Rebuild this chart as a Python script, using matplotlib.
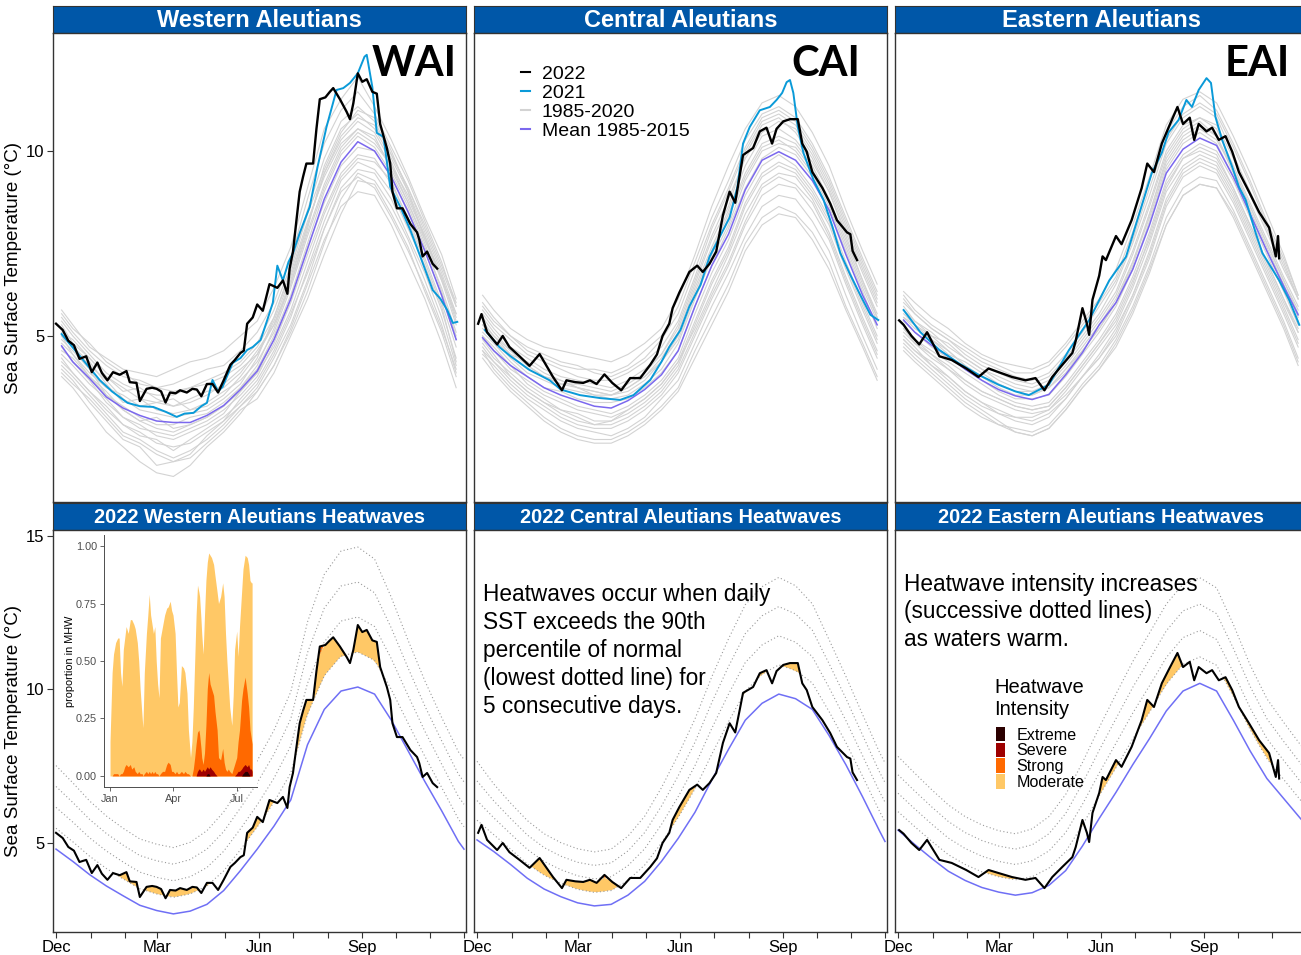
import matplotlib
matplotlib.use("Agg")
import matplotlib.pyplot as plt
import numpy as np
from matplotlib.lines import Line2D
from matplotlib.patches import Patch

plt.rcParams["font.family"] = ["Liberation Sans", "DejaVu Sans"]

# x axis: days since 1 Dec 2021
month_days = [0, 31, 62, 90, 121, 151, 182, 212, 243, 274, 304, 335, 365]
month_labels = ["Dec", "", "", "Mar", "", "", "Jun", "", "", "Sep", "", "", ""]

regions = ["Western Aleutians", "Central Aleutians", "Eastern Aleutians"]
codes = ["WAI", "CAI", "EAI"]

grid_days = [5, 15, 30, 45, 60, 75, 90, 105, 120, 135, 150, 165, 180, 195, 210, 225,
             240, 255, 270, 285, 300, 315, 330, 345, 358]
clim_days = [0, 15, 30, 45, 60, 75, 90, 105, 120, 135, 150, 165, 180, 195, 210, 225,
             240, 255, 270, 285, 300, 315, 330, 345, 360, 365]

# ---- Western Aleutians ----
wai_2022_days = [0, 6, 11, 16, 21, 27, 32, 37, 41, 46, 51, 57, 63, 66, 72, 75, 81, 86, 90, 94,
                 98, 102, 107, 111, 117, 122, 126, 130, 135, 140, 145, 150, 156, 160, 165, 168,
                 171, 176, 180, 185, 191, 198, 203, 207, 209, 212, 215, 218, 221, 224, 230, 233,
                 236, 241, 245, 248, 254, 260, 263, 266, 270, 274, 278, 283, 287, 290, 296, 299,
                 301, 305, 310, 317, 323, 325, 328, 332, 337, 341]
wai_2022 = [5.33, 5.16, 4.87, 4.75, 4.38, 4.45, 4.02, 4.28, 4.00, 3.80, 4.02, 3.95, 4.05, 3.75,
            3.73, 3.24, 3.57, 3.60, 3.57, 3.50, 3.20, 3.47, 3.45, 3.53, 3.47, 3.57, 3.55, 3.37,
            3.70, 3.70, 3.47, 3.80, 4.22, 4.35, 4.54, 4.60, 5.33, 5.50, 5.85, 5.68, 6.40, 6.30,
            6.50, 6.14, 6.82, 7.28, 8.10, 8.90, 9.30, 9.66, 9.66, 10.60, 11.40, 11.45, 11.60,
            11.70, 11.40, 11.06, 10.86, 11.29, 12.10, 11.87, 11.94, 11.60, 11.55, 10.73, 10.08,
            9.66, 8.90, 8.45, 8.45, 8.03, 7.80, 7.60, 7.15, 7.28, 6.95, 6.82]
wai_2021_days = [5, 19, 39, 50, 64, 75, 87, 98, 108, 115, 123, 130, 135, 140, 145, 149, 158, 165,
                 171, 176, 183, 189, 194, 198, 203, 208, 212, 218, 227, 234, 242, 251, 257, 263,
                 270, 276, 278, 283, 287, 293, 299, 308, 317, 326, 337, 344, 350, 355, 359]
wai_2021 = [5.05, 4.54, 3.81, 3.50, 3.19, 3.10, 3.08, 2.95, 2.81, 2.90, 2.92, 3.10, 3.19, 3.81,
            3.50, 3.62, 4.27, 4.40, 4.62, 4.70, 4.89, 5.43, 5.90, 6.90, 6.50, 7.00, 7.24, 7.78,
            8.49, 9.57, 10.65, 11.65, 11.70, 11.84, 12.10, 12.55, 12.60, 11.73, 10.49, 10.38,
            9.03, 8.49, 7.86, 7.14, 6.24, 6.00, 5.70, 5.35, 5.38]
wai_mean = [4.73, 4.30, 3.85, 3.35, 3.05, 2.85, 2.70, 2.66, 2.66, 2.85, 3.12, 3.55, 4.05, 4.90,
            6.0, 7.35, 8.7, 9.7, 10.25, 10.0, 9.3, 8.35, 7.3, 6.1, 4.9]
wai_years = [
    [5.7, 5.3, 4.7, 4.4, 4.1, 4.0, 3.9, 4.1, 4.3, 4.4, 4.6, 5.0, 5.4, 6.3, 7.4, 9.0, 10.6, 11.4, 12.0, 11.2, 10.3, 9.3, 8.2, 7.2, 6.0],
    [3.9, 3.6, 3.0, 2.4, 2.0, 1.6, 1.3, 1.2, 1.5, 2.0, 2.4, 2.9, 3.5, 4.2, 5.2, 6.4, 7.6, 8.5, 8.9, 8.8, 8.0, 7.0, 6.0, 4.8, 3.6],
    [5.2, 4.7, 4.3, 3.7, 3.2, 3.3, 3.0, 2.9, 3.0, 3.1, 3.4, 3.9, 4.5, 5.4, 6.6, 8.0, 9.4, 10.3, 10.8, 10.5, 9.7, 8.7, 7.7, 6.5, 5.3],
    [4.4, 4.0, 3.5, 3.0, 2.6, 2.3, 2.2, 1.9, 2.2, 2.5, 2.8, 3.2, 3.7, 4.5, 5.5, 6.8, 8.1, 9.2, 9.7, 9.5, 8.9, 7.9, 6.9, 5.7, 4.4],
    [5.0, 4.5, 4.0, 3.6, 3.4, 3.1, 3.2, 3.3, 3.0, 3.2, 3.5, 3.8, 4.3, 5.1, 6.3, 7.7, 9.0, 10.0, 10.5, 10.2, 9.6, 8.8, 7.7, 6.6, 5.5],
    [4.2, 3.9, 3.4, 2.9, 2.4, 2.2, 1.9, 1.7, 1.9, 2.2, 2.6, 3.1, 3.5, 4.2, 5.1, 6.2, 7.5, 8.7, 9.4, 9.2, 8.5, 7.6, 6.5, 5.3, 4.0],
    [5.4, 5.0, 4.5, 4.0, 3.7, 3.5, 3.4, 3.4, 3.6, 3.8, 4.0, 4.3, 4.8, 5.7, 6.9, 8.4, 9.8, 10.8, 11.2, 10.8, 9.9, 9.0, 7.9, 6.8, 5.8],
    [4.7, 4.3, 3.8, 3.2, 2.8, 2.5, 2.4, 2.3, 2.5, 2.7, 3.0, 3.4, 3.9, 4.8, 5.9, 7.2, 8.4, 9.4, 9.9, 9.8, 9.1, 8.2, 7.1, 5.9, 4.7],
    [4.9, 4.6, 4.1, 3.4, 3.1, 2.8, 2.6, 2.6, 2.8, 2.9, 3.2, 3.6, 4.1, 5.0, 6.1, 7.5, 8.9, 9.9, 10.4, 10.1, 9.4, 8.5, 7.4, 6.3, 5.1],
    [4.5, 4.2, 3.7, 3.3, 2.8, 2.6, 2.3, 2.2, 2.4, 2.6, 2.9, 3.5, 4.0, 4.7, 5.7, 7.0, 8.3, 9.3, 9.8, 9.7, 9.2, 8.1, 7.0, 5.8, 4.3],
    [5.3, 4.8, 4.4, 3.9, 3.5, 3.6, 3.3, 3.1, 3.3, 3.5, 3.6, 4.0, 4.6, 5.3, 6.4, 7.9, 9.6, 10.6, 11.0, 10.6, 9.8, 8.9, 7.6, 6.6, 5.4],
    [4.1, 3.8, 3.2, 2.7, 2.2, 2.0, 1.5, 1.6, 1.7, 2.1, 2.5, 3.0, 3.3, 4.0, 5.0, 6.0, 7.2, 8.3, 9.2, 9.1, 8.3, 7.4, 6.2, 5.1, 3.9],
    [4.6, 4.4, 3.9, 3.5, 3.0, 2.7, 2.8, 2.5, 2.6, 2.8, 3.1, 3.6, 4.2, 5.2, 6.4, 7.8, 9.1, 10.1, 10.6, 10.4, 9.5, 8.6, 7.5, 6.2, 5.0],
    [5.5, 5.1, 4.6, 4.2, 3.9, 3.8, 3.6, 3.7, 3.9, 4.1, 4.2, 4.6, 5.1, 5.9, 7.1, 8.7, 10.2, 11.1, 11.6, 11.0, 10.1, 9.2, 8.1, 7.0, 5.8],
    [5.0, 4.7, 4.2, 3.8, 3.3, 3.0, 2.9, 2.8, 2.9, 3.0, 3.3, 3.7, 4.4, 5.5, 6.8, 8.3, 9.5, 10.5, 11.1, 10.9, 10.0, 8.9, 7.8, 6.7, 5.6],
    [4.3, 4.0, 3.5, 3.1, 2.6, 2.4, 2.1, 2.0, 2.1, 2.4, 2.7, 3.1, 3.6, 4.4, 5.3, 6.5, 7.9, 9.0, 9.5, 9.4, 8.7, 7.7, 6.7, 5.5, 4.2],
    [5.6, 5.2, 4.8, 4.3, 4.0, 3.7, 3.6, 3.5, 3.6, 3.7, 3.9, 4.2, 4.7, 5.5, 6.7, 8.1, 9.3, 10.2, 10.6, 10.3, 9.6, 8.6, 7.6, 6.5, 5.6],
    [4.8, 4.5, 3.9, 3.4, 3.0, 2.7, 2.5, 2.4, 2.6, 2.8, 3.1, 3.5, 4.0, 4.9, 6.0, 7.4, 8.6, 9.6, 10.1, 10.0, 9.3, 8.4, 7.3, 6.1, 4.9],
    [4.0, 3.7, 3.3, 2.8, 2.3, 2.1, 1.8, 1.6, 1.8, 2.3, 2.7, 3.3, 3.8, 4.6, 5.6, 6.7, 7.9, 8.9, 9.3, 9.0, 8.2, 7.3, 6.3, 5.2, 4.1],
    [5.1, 4.9, 4.4, 3.9, 3.6, 3.3, 3.2, 3.1, 3.2, 3.4, 3.7, 4.1, 4.5, 5.3, 6.5, 8.0, 9.4, 10.4, 10.9, 10.7, 9.9, 9.0, 8.0, 6.9, 5.9],
]
wai_clim = [4.8, 4.4, 3.97, 3.6, 3.28, 2.97, 2.8, 2.69, 2.78, 3.0, 3.45, 4.1, 4.8, 5.55, 6.4,
            8.2, 9.35, 9.95, 10.08, 9.85, 9.0, 8.0, 7.0, 6.05, 5.05, 4.8]
wai_p90_gap = [0.68, 0.64, 0.6, 0.57, 0.55, 0.54, 0.54, 0.54, 0.56, 0.6, 0.64, 0.68, 0.72, 0.78,
               0.88, 1.0, 1.1, 1.14, 1.14, 1.1, 1.0, 0.9, 0.82, 0.76, 0.73, 0.73]

# ---- Central Aleutians ----
cai_2022_days = [1, 4, 9, 18, 23, 29, 38, 47, 56, 62, 68, 76, 80, 88, 95, 101, 107, 114, 121, 129,
                 137, 146, 155, 161, 166, 172, 175, 181, 190, 197, 202, 208, 214, 220, 226, 231,
                 235, 238, 247, 253, 259, 264, 268, 274, 280, 287, 291, 295, 300, 309, 316, 322,
                 331, 334, 336, 340]
cai_2022 = [5.33, 5.59, 5.10, 4.77, 5.00, 4.70, 4.45, 4.19, 4.51, 4.20, 3.89, 3.53, 3.80, 3.75,
            3.73, 3.80, 3.70, 3.96, 3.73, 3.53, 3.86, 3.86, 4.22, 4.50, 5.00, 5.33, 5.75, 6.17,
            6.73, 6.90, 6.73, 6.95, 7.28, 8.26, 8.90, 8.60, 9.33, 9.89, 10.08, 10.53, 10.63,
            10.20, 10.60, 10.80, 10.86, 10.86, 10.20, 9.98, 9.43, 9.00, 8.58, 8.13, 7.80, 7.75,
            7.30, 7.05]
cai_2021_days = [7, 20, 30, 47, 65, 75, 92, 110, 128, 140, 155, 165, 172, 182, 190, 200, 208, 226,
                 233, 238, 244, 253, 262, 268, 273, 277, 280, 283, 287, 292, 301, 310, 318, 325,
                 334, 343, 352, 359]
cai_2021 = [5.16, 4.70, 4.45, 4.08, 3.80, 3.55, 3.40, 3.32, 3.27, 3.40, 3.81, 4.30, 4.70, 5.16,
            5.80, 6.38, 7.14, 8.20, 9.03, 10.20, 10.65, 11.10, 11.19, 11.38, 11.57, 11.86, 11.92,
            11.57, 10.65, 9.95, 9.22, 8.68, 7.95, 7.24, 6.65, 6.10, 5.57, 5.43]
cai_mean = [4.95, 4.6, 4.2, 3.9, 3.6, 3.4, 3.25, 3.1, 3.05, 3.25, 3.55, 3.95, 4.6, 5.8, 6.9,
            7.75, 8.95, 9.75, 9.98, 9.75, 9.2, 8.4, 7.2, 6.1, 5.3]
cai_years = [
    [6.1, 5.7, 5.2, 4.9, 4.7, 4.6, 4.5, 4.4, 4.3, 4.5, 4.8, 5.2, 6.0, 7.2, 8.5, 9.6, 10.6, 11.3, 11.5, 11.2, 10.5, 9.6, 8.4, 7.3, 6.4],
    [4.6, 4.1, 3.6, 3.2, 2.8, 2.5, 2.3, 2.2, 2.2, 2.4, 2.7, 3.1, 3.6, 4.6, 5.5, 6.4, 7.5, 8.2, 8.5, 8.3, 7.8, 7.0, 5.8, 4.8, 3.9],
    [5.4, 5.0, 4.5, 4.3, 4.0, 3.8, 3.6, 3.5, 3.4, 3.6, 3.9, 4.4, 5.1, 6.3, 7.4, 8.4, 9.6, 10.4, 10.6, 10.3, 9.7, 8.9, 7.7, 6.5, 5.6],
    [4.8, 4.4, 4.0, 3.6, 3.3, 3.0, 2.9, 2.7, 2.7, 2.9, 3.2, 3.6, 4.2, 5.3, 6.4, 7.3, 8.5, 9.3, 9.6, 9.4, 8.8, 8.0, 6.8, 5.7, 4.8],
    [5.2, 4.9, 4.4, 4.0, 3.8, 3.6, 3.5, 3.4, 3.3, 3.4, 3.7, 4.1, 4.8, 6.0, 7.1, 8.0, 9.2, 10.0, 10.2, 10.1, 9.5, 8.6, 7.5, 6.4, 5.5],
    [4.7, 4.3, 3.8, 3.4, 3.1, 2.8, 2.6, 2.5, 2.5, 2.7, 3.0, 3.4, 4.0, 5.0, 6.0, 6.9, 8.0, 8.8, 9.1, 9.0, 8.4, 7.6, 6.4, 5.3, 4.4],
    [5.7, 5.3, 4.9, 4.5, 4.3, 4.1, 3.9, 3.8, 3.8, 4.0, 4.3, 4.7, 5.4, 6.6, 7.9, 8.9, 10.0, 10.8, 11.0, 10.7, 10.0, 9.1, 8.0, 6.9, 6.0],
    [5.0, 4.6, 4.1, 3.8, 3.5, 3.3, 3.1, 3.0, 2.9, 3.1, 3.4, 3.8, 4.4, 5.6, 6.7, 7.6, 8.8, 9.6, 9.9, 9.6, 9.0, 8.2, 7.0, 5.9, 5.0],
    [5.5, 5.1, 4.6, 4.2, 3.9, 3.7, 3.7, 3.6, 3.5, 3.7, 4.0, 4.5, 5.2, 6.4, 7.6, 8.5, 9.9, 10.7, 10.9, 10.5, 9.8, 8.9, 7.8, 6.7, 5.8],
    [4.9, 4.5, 3.9, 3.5, 3.2, 3.0, 2.8, 2.6, 2.7, 3.0, 3.3, 3.7, 4.3, 5.2, 6.2, 7.2, 8.3, 9.1, 9.4, 9.3, 8.7, 7.8, 6.6, 5.5, 4.6],
    [5.9, 5.5, 5.0, 4.6, 4.4, 4.2, 4.1, 4.1, 4.0, 4.2, 4.6, 5.0, 5.8, 7.0, 8.2, 9.2, 10.3, 11.0, 11.2, 10.9, 10.2, 9.3, 8.2, 7.1, 6.2],
    [4.5, 4.2, 3.7, 3.3, 3.0, 2.7, 2.5, 2.4, 2.3, 2.5, 2.8, 3.3, 3.8, 4.8, 5.8, 6.7, 7.7, 8.5, 8.8, 8.7, 8.1, 7.3, 6.1, 5.0, 4.1],
    [5.1, 4.8, 4.3, 3.9, 3.6, 3.5, 3.3, 3.2, 3.2, 3.3, 3.6, 4.0, 4.6, 5.8, 6.9, 7.9, 9.0, 9.8, 10.1, 9.9, 9.3, 8.4, 7.3, 6.2, 5.2],
    [5.6, 5.2, 4.7, 4.4, 4.1, 3.9, 3.8, 3.7, 3.6, 3.8, 4.1, 4.5, 5.3, 6.5, 7.7, 8.7, 9.8, 10.5, 10.8, 10.6, 9.9, 9.0, 7.9, 6.8, 5.9],
    [5.3, 4.9, 4.5, 4.1, 3.9, 3.7, 3.6, 3.5, 3.4, 3.5, 3.8, 4.3, 5.0, 6.2, 7.3, 8.3, 9.4, 10.2, 10.4, 10.2, 9.6, 8.7, 7.6, 6.5, 5.5],
    [4.6, 4.3, 3.9, 3.5, 3.2, 2.9, 2.7, 2.6, 2.6, 2.8, 3.1, 3.5, 4.1, 5.1, 6.1, 7.0, 8.1, 9.0, 9.3, 9.1, 8.6, 7.7, 6.5, 5.4, 4.5],
    [5.8, 5.4, 5.0, 4.7, 4.5, 4.3, 4.2, 4.0, 3.9, 4.1, 4.4, 4.9, 5.6, 6.8, 8.0, 9.0, 10.1, 10.9, 11.1, 10.8, 10.1, 9.2, 8.1, 7.0, 6.1],
    [5.0, 4.7, 4.2, 3.7, 3.4, 3.2, 3.0, 2.9, 2.8, 3.0, 3.3, 3.7, 4.3, 5.4, 6.5, 7.4, 8.6, 9.4, 9.7, 9.5, 8.9, 8.1, 6.9, 5.8, 4.9],
    [4.4, 4.0, 3.5, 3.1, 2.7, 2.4, 2.2, 2.1, 2.1, 2.3, 2.6, 3.0, 3.5, 4.4, 5.3, 6.2, 7.3, 8.0, 8.3, 8.2, 7.6, 6.8, 5.7, 4.7, 3.8],
    [5.3, 5.0, 4.6, 4.2, 3.9, 3.8, 3.6, 3.4, 3.4, 3.6, 3.9, 4.3, 4.9, 6.1, 7.2, 8.2, 9.3, 10.1, 10.3, 10.0, 9.4, 8.5, 7.4, 6.3, 5.4],
]
cai_clim = [5.1, 4.72, 4.3, 3.85, 3.5, 3.25, 3.05, 2.95, 3.0, 3.3, 3.75, 4.4, 5.15, 6.0, 7.05,
            8.05, 9.0, 9.55, 9.85, 9.7, 9.35, 8.5, 7.55, 6.5, 5.4, 5.05]
cai_p90_gap = [0.64, 0.55, 0.5, 0.47, 0.45, 0.44, 0.44, 0.44, 0.45, 0.48, 0.53, 0.6, 0.68, 0.76,
               0.84, 0.9, 0.94, 0.95, 0.95, 0.92, 0.86, 0.78, 0.72, 0.67, 0.64, 0.64]

# ---- Eastern Aleutians ----
eai_2022_days = [1, 5, 12, 19, 26, 37, 48, 61, 72, 81, 90, 102, 114, 123, 131, 138, 147, 156, 159,
                 165, 169, 171, 174, 180, 183, 186, 195, 200, 209, 218, 223, 229, 236, 242, 250,
                 255, 261, 265, 269, 276, 281, 287, 293, 299, 305, 314, 323, 332, 338, 340, 341]
eai_2022 = [5.42, 5.30, 5.00, 4.77, 5.10, 4.45, 4.35, 4.12, 3.89, 4.12, 4.02, 3.89, 3.80, 3.86,
            3.53, 3.89, 4.22, 4.54, 4.87, 5.75, 5.33, 5.03, 5.98, 6.63, 7.15, 7.05, 7.70, 7.48,
            8.13, 9.00, 9.66, 9.43, 10.20, 10.63, 11.19, 10.73, 10.90, 10.30, 10.73, 10.53,
            10.63, 10.30, 10.40, 9.98, 9.43, 8.90, 8.35, 7.93, 7.15, 7.70, 7.10]
eai_2021_days = [5, 20, 37, 55, 72, 90, 105, 117, 135, 153, 171, 189, 204, 216, 227, 236, 242, 251,
                 258, 263, 269, 276, 280, 284, 290, 299, 305, 311, 320, 326, 341, 350, 359]
eai_2021 = [5.70, 5.10, 4.62, 4.25, 3.95, 3.68, 3.50, 3.40, 3.68, 4.62, 5.43, 6.50, 7.14, 8.32,
            9.40, 9.95, 10.50, 10.84, 11.38, 11.19, 11.65, 11.97, 11.84, 10.92, 10.30, 9.57, 9.03,
            8.68, 7.78, 7.24, 6.50, 5.97, 5.30]
eai_mean = [5.43, 5.1, 4.75, 4.45, 4.1, 3.8, 3.55, 3.38, 3.28, 3.42, 3.95, 4.55, 5.3, 5.9, 6.8,
            8.0, 9.4, 10.05, 10.35, 10.15, 9.3, 8.3, 7.3, 6.35, 5.57]
eai_years = [
    [6.2, 5.9, 5.5, 5.2, 4.8, 4.5, 4.3, 4.2, 4.1, 4.3, 4.8, 5.4, 6.0, 6.8, 8.0, 9.3, 10.7, 11.4, 11.6, 11.3, 10.4, 9.4, 8.3, 7.2, 6.1],
    [4.8, 4.5, 4.1, 3.7, 3.3, 3.0, 2.7, 2.4, 2.3, 2.5, 3.0, 3.6, 4.1, 4.8, 5.7, 6.8, 8.0, 8.8, 9.1, 9.0, 8.3, 7.3, 6.3, 5.3, 4.3],
    [5.8, 5.4, 5.0, 4.8, 4.4, 4.1, 3.9, 3.7, 3.6, 3.8, 4.3, 4.9, 5.5, 6.2, 7.3, 8.6, 10.0, 10.7, 10.9, 10.7, 9.8, 8.8, 7.8, 6.8, 6.0],
    [5.1, 4.8, 4.4, 4.1, 3.7, 3.4, 3.2, 3.0, 2.9, 3.0, 3.5, 4.1, 4.7, 5.3, 6.3, 7.5, 8.9, 9.6, 9.9, 9.7, 8.9, 7.9, 6.9, 5.9, 5.1],
    [5.5, 5.2, 4.9, 4.5, 4.3, 4.0, 3.7, 3.5, 3.5, 3.6, 4.1, 4.7, 5.3, 6.0, 7.0, 8.2, 9.6, 10.3, 10.6, 10.3, 9.5, 8.5, 7.5, 6.5, 5.7],
    [5.0, 4.7, 4.2, 3.9, 3.5, 3.2, 2.9, 2.7, 2.6, 2.8, 3.3, 3.9, 4.4, 5.0, 6.0, 7.1, 8.5, 9.3, 9.6, 9.4, 8.6, 7.6, 6.6, 5.6, 4.7],
    [6.0, 5.6, 5.2, 4.9, 4.6, 4.3, 4.1, 3.9, 3.8, 4.0, 4.5, 5.1, 5.8, 6.5, 7.6, 9.0, 10.3, 11.0, 11.3, 11.0, 10.1, 9.1, 8.0, 7.0, 6.0],
    [5.3, 4.9, 4.6, 4.3, 4.0, 3.7, 3.4, 3.2, 3.1, 3.2, 3.7, 4.3, 4.9, 5.6, 6.6, 7.8, 9.2, 9.9, 10.2, 10.0, 9.2, 8.2, 7.2, 6.2, 5.3],
    [5.6, 5.3, 5.0, 4.6, 4.2, 3.9, 3.6, 3.4, 3.4, 3.6, 4.0, 4.6, 5.2, 5.9, 6.9, 8.3, 9.8, 10.5, 10.8, 10.4, 9.4, 8.4, 7.4, 6.4, 5.5],
    [4.9, 4.6, 4.2, 3.8, 3.4, 3.1, 2.9, 2.8, 2.8, 3.0, 3.4, 3.9, 4.5, 5.2, 6.1, 7.3, 8.7, 9.5, 9.8, 9.6, 8.8, 7.8, 6.8, 5.8, 4.9],
    [6.1, 5.7, 5.3, 5.0, 4.7, 4.4, 4.2, 4.0, 4.0, 4.2, 4.7, 5.3, 5.9, 6.6, 7.8, 9.2, 10.5, 11.2, 11.5, 11.1, 10.2, 9.2, 8.1, 7.1, 6.1],
    [4.7, 4.4, 4.0, 3.6, 3.2, 2.9, 2.6, 2.5, 2.4, 2.6, 3.1, 3.7, 4.2, 4.9, 5.8, 6.9, 8.2, 9.0, 9.3, 9.2, 8.4, 7.4, 6.4, 5.4, 4.4],
    [5.2, 4.9, 4.5, 4.2, 3.8, 3.5, 3.3, 3.1, 3.0, 3.1, 3.6, 4.2, 4.8, 5.5, 6.5, 7.6, 9.0, 9.8, 10.1, 9.9, 9.0, 8.0, 7.0, 6.0, 5.2],
    [5.7, 5.4, 5.1, 4.7, 4.4, 4.1, 3.8, 3.6, 3.5, 3.7, 4.2, 4.8, 5.4, 6.1, 7.2, 8.5, 9.9, 10.6, 10.9, 10.6, 9.6, 8.6, 7.6, 6.6, 5.8],
    [5.4, 5.1, 4.7, 4.4, 4.1, 3.8, 3.5, 3.3, 3.3, 3.4, 3.9, 4.5, 5.1, 5.8, 6.8, 8.1, 9.5, 10.2, 10.5, 10.2, 9.3, 8.3, 7.3, 6.3, 5.4],
    [4.9, 4.6, 4.3, 3.9, 3.5, 3.2, 3.0, 2.8, 2.7, 2.9, 3.3, 3.9, 4.4, 5.1, 6.1, 7.2, 8.6, 9.4, 9.7, 9.5, 8.7, 7.7, 6.7, 5.7, 4.8],
    [5.9, 5.6, 5.2, 4.9, 4.5, 4.2, 4.0, 3.8, 3.7, 3.9, 4.4, 5.0, 5.6, 6.4, 7.5, 8.8, 10.2, 10.9, 11.2, 10.9, 9.9, 8.9, 7.9, 6.9, 6.0],
    [5.2, 4.8, 4.5, 4.1, 3.8, 3.5, 3.3, 3.1, 3.0, 3.1, 3.6, 4.2, 4.8, 5.4, 6.4, 7.7, 9.1, 9.8, 10.0, 9.8, 9.0, 8.0, 7.0, 6.0, 5.1],
    [4.6, 4.3, 3.9, 3.5, 3.1, 2.8, 2.6, 2.4, 2.3, 2.5, 3.0, 3.6, 4.1, 4.7, 5.6, 6.7, 8.0, 8.8, 9.1, 9.0, 8.2, 7.2, 6.2, 5.2, 4.2],
    [5.5, 5.3, 4.9, 4.6, 4.2, 3.9, 3.7, 3.5, 3.4, 3.6, 4.1, 4.6, 5.2, 5.9, 7.0, 8.3, 9.7, 10.4, 10.7, 10.4, 9.5, 8.5, 7.5, 6.5, 5.6],
]
eai_clim = [5.42, 4.95, 4.5, 4.08, 3.78, 3.55, 3.4, 3.3, 3.38, 3.62, 4.1, 4.9, 5.8, 6.65, 7.55,
            8.4, 9.3, 9.95, 10.2, 9.95, 9.0, 8.0, 7.1, 6.45, 5.8, 5.6]
eai_p90_gap = [0.6, 0.58, 0.56, 0.54, 0.52, 0.51, 0.5, 0.5, 0.52, 0.56, 0.62, 0.68, 0.74, 0.8,
               0.84, 0.86, 0.87, 0.87, 0.86, 0.84, 0.78, 0.7, 0.65, 0.62, 0.6, 0.6]

# ---- inset: share of WAI area in MHW, days since 1 Jan 2022 (cumulative by category) ----
inset_days = [0, 1, 3, 5, 8, 11, 13, 15, 17, 19, 21, 23, 26, 29, 31, 34, 36, 39, 41, 43, 46, 47,
              49, 52, 54, 56, 58, 60, 62, 64, 66, 68, 70, 72, 75, 78, 81, 83, 86, 88, 90, 93, 95,
              97, 99, 102, 105, 107, 110, 112, 115, 117, 119, 121, 123, 125, 127, 128, 130, 131,
              133, 135, 137, 139, 141, 143, 145, 148, 150, 153, 155, 158, 161, 163, 165, 167,
              169, 171, 174, 176, 178, 181, 183, 185, 188, 190, 193, 196, 198, 200, 202, 203]
inset_moderate = [0.15, 0.25, 0.45, 0.53, 0.58, 0.60, 0.60, 0.45, 0.39, 0.55, 0.60, 0.65, 0.62,
                  0.68, 0.68, 0.66, 0.64, 0.58, 0.50, 0.38, 0.25, 0.21, 0.45, 0.62, 0.70, 0.79,
                  0.70, 0.66, 0.62, 0.65, 0.50, 0.40, 0.34, 0.60, 0.65, 0.70, 0.73, 0.735, 0.76,
                  0.72, 0.70, 0.62, 0.45, 0.30, 0.32, 0.48, 0.47, 0.45, 0.36, 0.20, 0.08, 0.15,
                  0.30, 0.50, 0.70, 0.83, 0.80, 0.78, 0.68, 0.62, 0.53, 0.70, 0.85, 0.93, 0.97,
                  0.96, 0.95, 0.92, 0.87, 0.80, 0.75, 0.78, 0.84, 0.78, 0.62, 0.50, 0.40, 0.30,
                  0.22, 0.35, 0.55, 0.63, 0.52, 0.65, 0.80, 0.90, 0.96, 0.95, 0.92, 0.85, 0.84, 0.84]
inset_strong = [0.0, 0.0, 0.0, 0.01, 0.01, 0.01, 0.0, 0.01, 0.01, 0.02, 0.04, 0.05, 0.04, 0.05,
                0.03, 0.04, 0.02, 0.01, 0.02, 0.01, 0.01, 0.0, 0.01, 0.02, 0.01, 0.02, 0.01, 0.02,
                0.01, 0.02, 0.01, 0.01, 0.0, 0.01, 0.02, 0.02, 0.05, 0.06, 0.05, 0.02, 0.02, 0.01,
                0.02, 0.01, 0.01, 0.02, 0.01, 0.02, 0.01, 0.01, 0.0, 0.0, 0.03, 0.08, 0.14, 0.19,
                0.20, 0.18, 0.12, 0.08, 0.05, 0.10, 0.22, 0.38, 0.45, 0.40, 0.38, 0.35, 0.28, 0.20,
                0.08, 0.07, 0.12, 0.06, 0.03, 0.02, 0.03, 0.02, 0.01, 0.03, 0.05, 0.08, 0.15, 0.20,
                0.33, 0.38, 0.43, 0.36, 0.30, 0.20, 0.16, 0.14]
inset_severe = [0.0] * 55 + [0.02, 0.03, 0.03, 0.02, 0.02, 0.03, 0.02, 0.03, 0.04, 0.03, 0.04,
                             0.03, 0.02, 0.01, 0.0, 0.0, 0.0, 0.0, 0.0, 0.0, 0.0, 0.0, 0.0, 0.0,
                             0.0, 0.0, 0.01, 0.02, 0.02, 0.03, 0.04, 0.05, 0.04, 0.05, 0.03, 0.03,
                             0.02]
inset_extreme = [0.0] * 63 + [0.01, 0.01] + [0.0] * 20 + [0.01, 0.02, 0.02, 0.01, 0.0, 0.0, 0.0]

cat_names = ["Extreme", "Severe", "Strong", "Moderate"]
cat_colors = ["#2b0000", "#9e0000", "#ff6900", "#ffc866"]

col_2022 = "black"
col_2021 = "#0a9ad8"
col_years = "#d3d3d3"
col_mean = "#7b68ee"
col_clim = "#6f6ff5"
strip_blue = "#0057a8"

W, H = 1301, 955
fig = plt.figure(figsize=(W / 100, H / 100), dpi=100)


def px_axes(x0, y0, x1, y1, **kw):
    return fig.add_axes([x0 / W, 1 - y1 / H, (x1 - x0) / W, (y1 - y0) / H], **kw)


def strip(x0, y0, y1, label, size):
    sa = px_axes(x0, y0, x0 + 413, y1, facecolor=strip_blue)
    sa.set_xticks([])
    sa.set_yticks([])
    for sp in sa.spines.values():
        sp.set_color("#333333")
        sp.set_linewidth(0.8)
    sa.text(0.5, 0.48, label, transform=sa.transAxes, ha="center", va="center",
            color="white", fontsize=size, fontweight="bold")


def style(ax):
    for sp in ax.spines.values():
        sp.set_color("#333333")
        sp.set_linewidth(1.0)
    ax.set_xlim(-2.7, 366.8)
    ax.tick_params(direction="out", length=4, width=0.8, color="#333333",
                   labelsize=12, labelcolor="black", pad=2)


lefts = [53, 474, 895]
top_sets = [
    (wai_years, wai_mean, wai_2021_days, wai_2021, wai_2022_days, wai_2022),
    (cai_years, cai_mean, cai_2021_days, cai_2021, cai_2022_days, cai_2022),
    (eai_years, eai_mean, eai_2021_days, eai_2021, eai_2022_days, eai_2022),
]
bottom_sets = [
    (wai_clim, wai_p90_gap, wai_2022_days, wai_2022),
    (cai_clim, cai_p90_gap, cai_2022_days, cai_2022),
    (eai_clim, eai_p90_gap, eai_2022_days, eai_2022),
]
code_x = [0.978, 0.935, 0.956]

for i, x0 in enumerate(lefts):
    # ---------- top row: SST by year ----------
    strip(x0, 6, 33, regions[i], 17)
    ax = px_axes(x0, 33, x0 + 413, 502)
    style(ax)
    years, mean, d21, v21, d22, v22 = top_sets[i]
    for yr in years:
        ax.plot(grid_days, yr, color=col_years, lw=0.8)
    ax.plot(grid_days, mean, color=col_mean, lw=1.1)
    ax.plot(d21, v21, color=col_2021, lw=1.4)
    ax.plot(d22, v22, color=col_2022, lw=1.7)
    ax.set_ylim(0.51, 13.19)
    ax.set_xticks([])
    ax.text(code_x[i], 0.934, codes[i], transform=ax.transAxes, ha="right", va="center",
            fontsize=30, fontweight="bold", family=["Lato", "DejaVu Sans"])
    if i == 0:
        ax.set_yticks([5, 10])
        ax.set_ylabel("Sea Surface Temperature (°C)", fontsize=13.5)
        ax.yaxis.set_label_coords(-0.075, 0.5)
    else:
        ax.set_yticks([])
    if i == 1:
        handles = [Line2D([], [], color=c, lw=1.5) for c in (col_2022, col_2021, col_years, col_mean)]
        ax.legend(handles, ["2022", "2021", "1985-2020", "Mean 1985-2015"], loc="upper left",
                  bbox_to_anchor=(0.115, 0.932), frameon=False, fontsize=14, handlelength=0.45,
                  handletextpad=0.6, labelspacing=0.08, borderpad=0, borderaxespad=0)

    # ---------- bottom row: 2022 heatwaves ----------
    strip(x0, 503, 530, "2022 " + regions[i] + " Heatwaves", 14.3)
    bx = px_axes(x0, 530, x0 + 413, 932)
    style(bx)
    clim, gap, d22, v22 = bottom_sets[i]
    clim = np.array(clim)
    gap = np.array(gap)
    for k in (1, 2, 3, 4):
        bx.plot(clim_days, clim + k * gap, color="#9a9a9a", lw=0.8, ls=(0, (1, 2.2)))
    dd = np.array(d22, dtype=float)
    vv = np.array(v22)
    thr1 = np.interp(dd, clim_days, clim + gap)
    thr2 = np.interp(dd, clim_days, clim + 2 * gap)
    bx.fill_between(dd, thr1, np.minimum(vv, thr2), where=vv > thr1, interpolate=True,
                    color=cat_colors[3], lw=0)
    bx.fill_between(dd, thr2, vv, where=vv > thr2, interpolate=True, color=cat_colors[2], lw=0)
    bx.plot(clim_days, clim, color=col_clim, lw=1.1)
    bx.plot(dd, vv, color=col_2022, lw=1.5)
    bx.set_ylim(2.10, 15.195)
    bx.set_xticks(month_days)
    bx.set_xticklabels(month_labels)
    if i == 0:
        bx.set_yticks([5, 10, 15])
        bx.set_ylabel("Sea Surface Temperature (°C)", fontsize=13.5)
        bx.yaxis.set_label_coords(-0.075, 0.5)
    else:
        bx.set_yticks([])

    if i == 1:
        bx.text(0.022, 0.868, "Heatwaves occur when daily\nSST exceeds the 90th\n"
                "percentile of normal\n(lowest dotted line) for\n5 consecutive days.",
                transform=bx.transAxes, ha="left", va="top", fontsize=16.3, linespacing=1.27)
    if i == 2:
        bx.text(0.022, 0.894, "Heatwave intensity increases\n(successive dotted lines)\nas waters warm.",
                transform=bx.transAxes, ha="left", va="top", fontsize=16.3, linespacing=1.27)
        bx.text(0.240, 0.631, "Heatwave\nIntensity", transform=bx.transAxes, ha="left",
                va="top", fontsize=14.5, linespacing=1.16)
        patches = [Patch(facecolor=c, edgecolor="none") for c in cat_colors]
        bx.legend(patches, cat_names, loc="upper left", bbox_to_anchor=(0.244, 0.510),
                  frameon=False, fontsize=11.6, handlelength=0.55, handleheight=1.0,
                  handletextpad=0.75, labelspacing=0.0, borderpad=0, borderaxespad=0)

# ---------- inset in WAI heatwave panel ----------
bg = px_axes(64, 532, 263, 803, facecolor="white", zorder=5)
bg.axis("off")
bg.patch.set_visible(True)
ins = px_axes(104, 535, 257, 787, zorder=6)
ins.fill_between(inset_days, 0, inset_moderate, color=cat_colors[3], lw=0)
ins.fill_between(inset_days, 0, inset_strong, color=cat_colors[2], lw=0)
ins.fill_between(inset_days, 0, inset_severe, color=cat_colors[1], lw=0)
ins.fill_between(inset_days, 0, inset_extreme, color=cat_colors[0], lw=0)
ins.set_xlim(-8.6, 210)
ins.set_ylim(-0.048, 1.048)
ins.set_yticks([0, 0.25, 0.5, 0.75, 1.0])
ins.set_yticklabels(["0.00", "0.25", "0.50", "0.75", "1.00"])
ins.set_xticks([0, 90, 181])
ins.set_xticklabels(["Jan", "Apr", "Jul"])
ins.tick_params(labelsize=7.8, labelcolor="#4d4d4d", length=3, width=0.6, color="#4d4d4d", pad=2)
ins.set_ylabel("proportion in MHW", fontsize=7.8, labelpad=1)
for side in ("top", "right"):
    ins.spines[side].set_visible(False)
for side in ("left", "bottom"):
    ins.spines[side].set_color("#4d4d4d")
    ins.spines[side].set_linewidth(0.7)

fig.savefig("out.png", dpi=100)
